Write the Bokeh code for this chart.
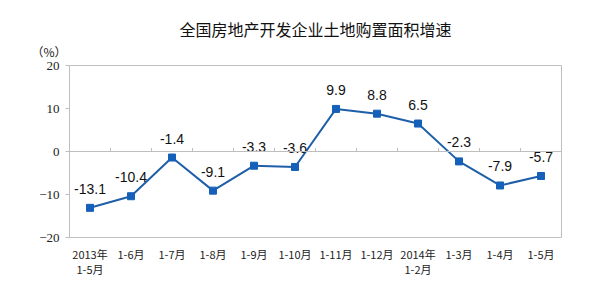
from bokeh.plotting import figure
from bokeh.models import Range1d, FixedTicker, Span, ColumnDataSource, Title
from bokeh.core.properties import value
from bokeh.embed import file_html
from bokeh.resources import INLINE

categories = ["2013年\n1-5月", "1-6月", "1-7月", "1-8月", "1-9月", "1-10月",
              "1-11月", "1-12月", "2014年\n1-2月", "1-3月", "1-4月", "1-5月"]
growth = [-13.1, -10.4, -1.4, -9.1, -3.3, -3.6, 9.9, 8.8, 6.5, -2.3, -7.9, -5.7]
y_ticks = [-20, -10, 0, 10, 20]
title_text = "全国房地产开发企业土地购置面积增速"
unit_text = "（%）"

n = len(categories)
xs = [i + 0.5 for i in range(n)]
src = ColumnDataSource(dict(x=xs, y=growth, lab=[f"{v:.1f}" for v in growth]))

p = figure(width=611, height=303, output_backend="svg", toolbar_location=None,
           x_range=Range1d(0, n), y_range=Range1d(y_ticks[0], y_ticks[-1]),
           min_border_left=69, min_border_right=50, min_border_top=65,
           min_border_bottom=66, title=None)
p.background_fill_color = "white"
p.border_fill_color = "white"
p.outline_line_color = "#BEBEBE"
p.outline_line_width = 1
p.xgrid.visible = False
p.ygrid.visible = False

unit_title = Title(text=unit_text, align="left", offset=-38,
                   text_font="Noto Sans CJK SC", text_font_size="12px",
                   text_font_style="normal", text_color="#222222", standoff=12)
p.add_layout(unit_title, "above")
main_title = Title(text=title_text, align="center",
                   text_font="Noto Sans CJK SC", text_font_size="16px",
                   text_font_style="normal", text_color="#111111", standoff=-13)
p.add_layout(main_title, "above")

# y axis
ya = p.yaxis[0]
ya.ticker = FixedTicker(ticks=y_ticks)
ya.axis_line_color = "#BEBEBE"
ya.major_tick_line_color = "#BEBEBE"
ya.major_tick_out = 4
ya.major_tick_in = 0
ya.minor_tick_line_color = None
ya.major_label_text_font = "Liberation Serif"
ya.major_label_text_font_size = "13px"
ya.major_label_text_color = "#222222"
ya.major_label_standoff = 6

# x axis (labels only)
xa = p.xaxis[0]
xa.ticker = FixedTicker(ticks=xs)
xa.major_label_overrides = {x: c for x, c in zip(xs, categories)}
xa.axis_line_color = None
xa.major_tick_line_color = None
xa.minor_tick_line_color = None
xa.major_label_text_font = "Noto Sans CJK SC"
xa.major_label_text_font_size = "11px"
xa.major_label_text_color = "#222222"
xa.major_label_text_line_height = 0.95
xa.major_label_standoff = 2

# zero line with category separators
p.add_layout(Span(location=0, dimension="width", line_color="#BEBEBE", line_width=1))
bounds = list(range(1, n))
p.segment(x0=bounds, y0=[0] * len(bounds), x1=bounds, y1=[0.8] * len(bounds),
          line_color="#BEBEBE", line_width=1)

p.line("x", "y", source=src, line_color="#1F5FA8", line_width=2)
p.scatter("x", "y", source=src, marker="square", size=7,
          fill_color="#1560B8", line_color="#1560B8")
p.text("x", "y", text="lab", source=src, text_align="center",
       text_baseline="middle", y_offset=-19, text_font=value("Liberation Sans"),
       text_font_size="14px", text_color="#111111")

open("out.html", "w").write(file_html(p, INLINE))
